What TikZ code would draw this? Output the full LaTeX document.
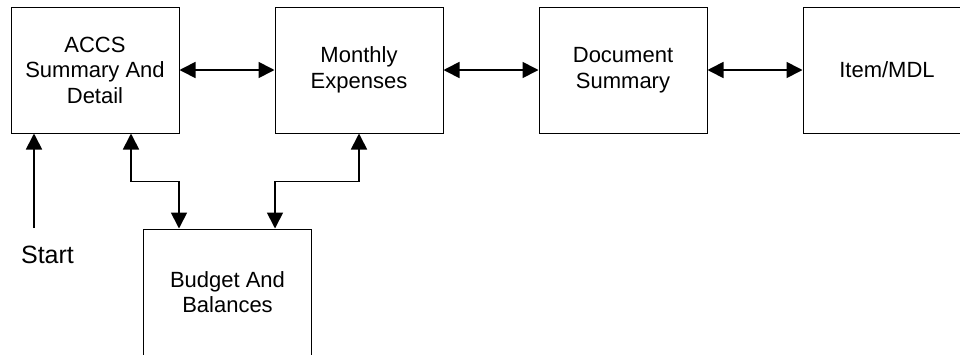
\documentclass[tikz,border=0pt]{standalone}
\usepackage{fontspec}
\setmainfont{Liberation Sans}
\usetikzlibrary{arrows.meta}
\tikzset{
    every node/.style={align=center,font=\fontsize{22}{25.5}\selectfont,},
    screen/.style={draw,rectangle,line width=1pt,minimum width=168pt,minimum height=126pt,inner sep=0pt,},
    link/.style={line width=1.7pt,{Triangle[length=16pt,width=16pt]}-{Triangle[length=16pt,width=16pt]},},
}
\begin{document}
\begin{tikzpicture}[x=1pt,y=-1pt]
        \useasboundingbox (0,0) rectangle (960,354);
        \clip (0,0) rectangle (960,354);

        \node[screen] (accs) at (95,70) {ACCS\\Summary And\\Detail};
        \node[screen] (monthly) at (359,70) {Monthly\\Expenses};
        \node[screen] (docsum) at (623,70) {Document\\Summary};
        \node[screen] (item) at (887,70) {Item/MDL};
        \node[screen] (budget) at (227.5,292) {Budget And\\Balances};

        \node[font=\fontsize{25}{29}\selectfont] (start) at (47.5,255) {Start};
        \coordinate (startarrow) at (34,228);

        \draw[link] (accs) to (monthly);
        \draw[link] (monthly) to (docsum);
        \draw[link] (docsum) to (item);

        \draw[link] ([xshift=36pt]accs.south) -- ++(0,48) -| ([xshift=-48.5pt]budget.north);
        \draw[link] ([xshift=47.5pt]budget.north) -- ++(0,-47) -| (monthly.south);
        \draw[link, {}-{Triangle[length=16pt,width=16pt]}] (startarrow) to (startarrow |- accs.south);
    \end{tikzpicture}
\end{document}
